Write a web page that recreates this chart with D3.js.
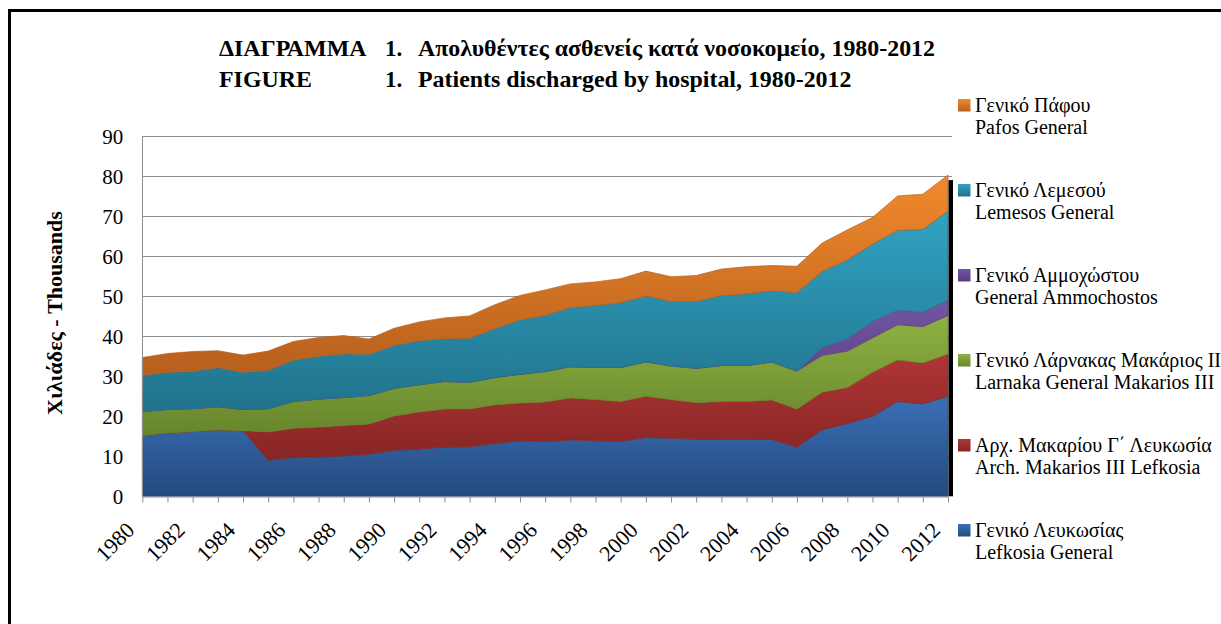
<!DOCTYPE html>
<html>
<head>
<meta charset="utf-8">
<script src="https://cdn.jsdelivr.net/npm/d3@7"></script>
<style>
  body { margin: 0; background: #fff; }
  svg { display: block; font-family: "Liberation Serif", "Times New Roman", serif; }
</style>
</head>
<body>
<svg id="chart" width="1221" height="624"></svg>
<script>
// years on the x axis, labels on every second one
var years = [1980, 1981, 1982, 1983, 1984, 1985, 1986, 1987, 1988, 1989, 1990, 1991, 1992, 1993, 1994, 1995, 1996,
             1997, 1998, 1999, 2000, 2001, 2002, 2003, 2004, 2005, 2006, 2007, 2008, 2009, 2010, 2011, 2012];
var tickYears = [1980, 1982, 1984, 1986, 1988, 1990, 1992, 1994, 1996, 1998, 2000, 2002, 2004, 2006, 2008, 2010, 2012];
var yTicks = [0, 10, 20, 30, 40, 50, 60, 70, 80, 90];

// thousands of patients discharged
var lefkosia    = [15.2, 15.8, 16.2, 16.6, 16.4, 9.0, 9.7, 9.8, 10.1, 10.5, 11.5, 11.8, 12.3, 12.4, 13.2, 13.9, 13.7,
                   14.1, 13.9, 13.7, 14.7, 14.5, 14.3, 14.3, 14.2, 14.2, 12.3, 16.6, 18.2, 20.0, 23.7, 23.1, 25.0];
var makarios    = [0, 0, 0, 0, 0, 7.1, 7.3, 7.5, 7.6, 7.6, 8.6, 9.3, 9.5, 9.4, 9.7, 9.4, 9.9,
                   10.5, 10.3, 10.0, 10.3, 9.7, 9.1, 9.4, 9.5, 9.9, 9.5, 9.4, 9.0, 11.0, 10.4, 10.2, 10.6];
var larnaka     = [6.0, 5.9, 5.7, 5.8, 5.3, 5.8, 6.7, 7.0, 7.0, 7.1, 6.9, 6.8, 6.9, 6.7, 6.8, 7.2, 7.6,
                   7.8, 8.0, 8.5, 8.6, 8.4, 8.6, 9.0, 9.0, 9.5, 9.5, 9.2, 9.1, 8.6, 8.8, 9.1, 9.6];
var ammochostos = [0, 0, 0, 0, 0, 0, 0, 0, 0, 0, 0, 0, 0, 0, 0, 0, 0,
                   0, 0, 0, 0, 0, 0, 0, 0, 0, 0, 2.0, 3.1, 4.1, 3.6, 3.6, 3.8];
var lemesos     = [9.0, 9.3, 9.3, 9.8, 9.3, 9.6, 10.3, 10.7, 10.9, 10.3, 10.7, 11.0, 10.7, 11.0, 12.2, 13.6, 14.0,
                   14.8, 15.5, 16.2, 16.5, 16.1, 16.7, 17.5, 17.9, 17.8, 19.6, 19.0, 19.7, 19.3, 20.0, 20.7, 22.3];
var pafos       = [4.5, 4.7, 5.0, 4.2, 4.3, 4.8, 4.7, 4.7, 4.6, 3.8, 4.3, 4.7, 5.2, 5.6, 6.0, 6.1, 6.4,
                   5.9, 5.9, 6.0, 6.2, 6.2, 6.5, 6.6, 6.8, 6.3, 6.6, 7.1, 7.5, 6.7, 8.6, 8.8, 9.0];

var seriesKeys = ["lefkosia", "makarios", "larnaka", "ammochostos", "lemesos", "pafos"];
var greekNames = ["Γενικό Λευκωσίας", "Αρχ. Μακαρίου Γ΄ Λευκωσία", "Γενικό Λάρνακας Μακάριος ΙΙΙ",
                  "Γενικό Αμμοχώστου", "Γενικό Λεμεσού", "Γενικό Πάφου"];
var englishNames = ["Lefkosia General", "Arch. Makarios III Lefkosia", "Larnaka General Makarios III",
                    "General Ammochostos", "Lemesos General", "Pafos General"];
var colorTop    = ["#3a70b6", "#b13535", "#8fb142", "#7355a2", "#30a3c2", "#f28a2d"];
var colorBottom = ["#244a7e", "#862525", "#66862c", "#583d80", "#21728c", "#b65f1d"];

var seriesData = { lefkosia: lefkosia, makarios: makarios, larnaka: larnaka,
                   ammochostos: ammochostos, lemesos: lemesos, pafos: pafos };

var rows = years.map(function (y, i) {
    var r = { year: y };
    seriesKeys.forEach(function (k) { r[k] = seriesData[k][i]; });
    return r;
});

var svg = d3.select("#chart");

var x = d3.scaleLinear().domain([1980, 2012]).range([142.3, 948]);
var yScale = d3.scaleLinear().domain([0, 90]).range([496.3, 136.3]);

// outer frame
svg.append("path")
    .attr("d", "M9.5,630 L9.5,10.5 L1230,10.5")
    .attr("fill", "none")
    .attr("stroke", "#000")
    .attr("stroke-width", 3);

// gradients
var defs = svg.append("defs");
seriesKeys.forEach(function (k, i) {
    var g = defs.append("linearGradient")
        .attr("id", "grad-" + k)
        .attr("x1", 0).attr("y1", 0).attr("x2", 0).attr("y2", 1);
    g.append("stop").attr("offset", "0%").attr("stop-color", colorTop[i]);
    g.append("stop").attr("offset", "100%").attr("stop-color", colorBottom[i]);
});

// grid lines
svg.append("g")
    .selectAll("line")
    .data(yTicks.slice(1))
    .enter()
    .append("line")
    .attr("x1", 142.3)
    .attr("x2", 952)
    .attr("y1", d => Math.round(yScale(d)) + 0.5)
    .attr("y2", d => Math.round(yScale(d)) + 0.5)
    .attr("stroke", "#8e8e8e")
    .attr("stroke-width", 1);

var stack = d3.stack().keys(seriesKeys);
var layers = stack(rows);

var area = d3.area()
    .x(d => x(d.data.year))
    .y0(d => yScale(d[0]))
    .y1(d => yScale(d[1]));

svg.append("g")
    .selectAll("path")
    .data(layers)
    .enter()
    .append("path")
    .attr("d", area)
    .attr("fill", d => "url(#grad-" + d.key + ")")
    .attr("stroke", (d, i) => colorBottom[i])
    .attr("stroke-width", 0.7);

// black edge on the right of the areas
var lastTotal = d3.sum(seriesKeys, k => seriesData[k][years.length - 1]);
svg.append("rect")
    .attr("x", x(2012) + 0.5)
    .attr("y", yScale(lastTotal) + 5)
    .attr("width", 4.5)
    .attr("height", yScale(0) - yScale(lastTotal) - 5)
    .attr("fill", "#000");

// y axis line
svg.append("line")
    .attr("x1", 142.5).attr("x2", 142.5)
    .attr("y1", yScale(90)).attr("y2", yScale(0))
    .attr("stroke", "#8e8e8e");

var yAxis = svg.append("g")
    .attr("transform", "translate(142.3,0)")
    .call(d3.axisLeft(yScale).tickValues(yTicks).tickSize(0).tickPadding(19));
yAxis.select(".domain").remove();
yAxis.selectAll("text")
    .attr("font-family", "Liberation Serif, serif")
    .attr("font-size", "21px")
    .attr("fill", "#000");

// x axis
var xAxis = svg.append("g")
    .attr("transform", "translate(0," + 496.5 + ")")
    .call(d3.axisBottom(x).tickValues(years).tickSize(6).tickSizeOuter(0)
        .tickFormat(d => tickYears.indexOf(d) >= 0 ? String(d) : ""));
xAxis.select(".domain").attr("stroke", "#8e8e8e");
xAxis.selectAll(".tick line").attr("stroke", "#8e8e8e");
xAxis.selectAll("text")
    .attr("font-family", "Liberation Serif, serif")
    .attr("font-size", "22px")
    .attr("fill", "#000")
    .attr("y", 0)
    .attr("dy", 0)
    .style("text-anchor", "end")
    .attr("transform", "translate(-7,35) rotate(-45)");

// y axis title
svg.append("text")
    .attr("transform", "translate(62,313) rotate(-90)")
    .attr("text-anchor", "middle")
    .attr("font-size", "22px")
    .attr("font-weight", "bold")
    .text("Χιλιάδες - Thousands");

// title
var title = svg.append("g").attr("font-weight", "bold").attr("font-size", "23px");
var t1 = title.append("text").attr("x", 219).attr("y", 56).text("ΔΙΑΓΡΑΜΜΑ");
title.append("text").attr("x", 385).attr("y", 56).text("1.");
var t3 = title.append("text").attr("x", 418).attr("y", 56).text("Απολυθέντες ασθενείς κατά νοσοκομείο, 1980-2012");
var t4 = title.append("text").attr("x", 219).attr("y", 87).text("FIGURE");
title.append("text").attr("x", 385).attr("y", 87).text("1.");
var t6 = title.append("text").attr("x", 418).attr("y", 87).text("Patients discharged by hospital, 1980-2012");
// squeeze to the narrow look of the original
var squeeze = 517 / t3.node().getComputedTextLength();
[t1, t3, t4, t6].forEach(function (t) {
    t.attr("textLength", t.node().getComputedTextLength() * squeeze)
     .attr("lengthAdjust", "spacingAndGlyphs");
});

// legend, top entry is the last series
var legend = svg.append("g")
    .attr("transform", "translate(958,99)");
var legendItems = legend.selectAll("g")
    .data(seriesKeys.slice().reverse())
    .enter()
    .append("g")
    .attr("transform", (d, i) => "translate(0," + (i * 85) + ")");
legendItems.append("rect")
    .attr("width", 12.5)
    .attr("height", 12.5)
    .attr("fill", d => "url(#grad-" + d + ")");
legendItems.append("text")
    .attr("x", 17)
    .attr("y", 12.5)
    .attr("font-size", "20px")
    .text(d => greekNames[seriesKeys.indexOf(d)]);
legendItems.append("text")
    .attr("x", 17)
    .attr("y", 35)
    .attr("font-size", "20px")
    .text(d => englishNames[seriesKeys.indexOf(d)]);
</script>
</body>
</html>
